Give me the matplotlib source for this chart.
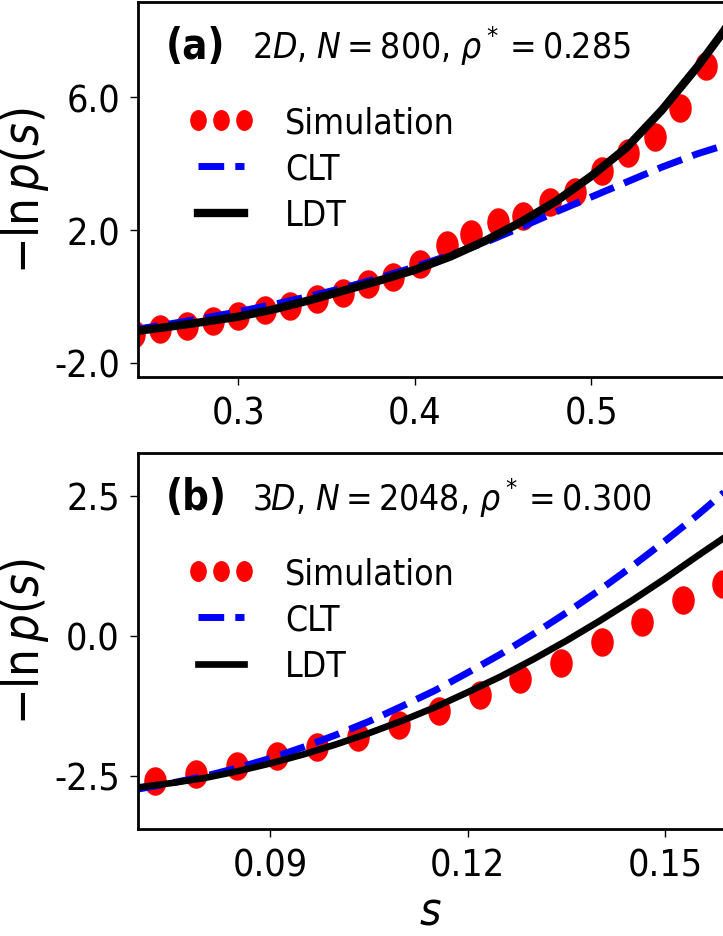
import matplotlib
matplotlib.use("Agg")
import matplotlib.pyplot as plt
from matplotlib.path import Path
from matplotlib.transforms import Affine2D

plt.rcParams["font.family"] = ["DejaVu Sans"]
plt.rcParams["font.stretch"] = "condensed"
plt.rcParams["mathtext.fontset"] = "custom"
plt.rcParams["mathtext.rm"] = "DejaVu Sans:stretch=condensed"
plt.rcParams["mathtext.it"] = "DejaVu Sans:style=italic:stretch=condensed"
plt.rcParams["mathtext.bf"] = "DejaVu Sans:weight=bold:stretch=condensed"

# panel (a): 2D, N = 800
sim_a_s = [0.241, 0.2557, 0.2708, 0.2859, 0.3001, 0.3152, 0.3294, 0.3445, 0.3596, 0.3734,
           0.3879, 0.403, 0.418, 0.4321, 0.4472, 0.4614, 0.4765, 0.4907, 0.5058, 0.5209,
           0.536, 0.5502, 0.5649]
sim_a_v = [-1.12, -0.98, -0.88, -0.73, -0.58, -0.42, -0.28, -0.07, 0.11, 0.36,
           0.60, 0.97, 1.54, 1.89, 2.24, 2.44, 2.86, 3.16, 3.78, 4.32,
           4.82, 5.67, 6.96]
th_a_s = [0.24, 0.26, 0.28, 0.30, 0.32, 0.34, 0.36, 0.38, 0.40, 0.42,
          0.44, 0.46, 0.48, 0.50, 0.52, 0.54, 0.56, 0.575, 0.58]
clt_a = [-1.01, -0.84, -0.66, -0.46, -0.24, 0.0, 0.26, 0.56, 0.89, 1.25,
         1.63, 2.08, 2.55, 3.0, 3.45, 3.9, 4.3, 4.55, 4.65]
ldt_a = [-1.06, -0.92, -0.77, -0.61, -0.39, -0.12, 0.18, 0.48, 0.80, 1.20,
         1.68, 2.24, 2.87, 3.63, 4.49, 5.62, 6.92, 8.0, 8.4]

# panel (b): 3D, N = 2048
sim_b_s = [0.0725, 0.0787, 0.0849, 0.0910, 0.0971, 0.1033, 0.1095, 0.1157, 0.1219, 0.1280,
           0.1342, 0.1404, 0.1465, 0.1527, 0.1588]
sim_b_v = [-2.59, -2.47, -2.32, -2.14, -1.99, -1.81, -1.60, -1.34, -1.06, -0.77,
           -0.48, -0.12, 0.24, 0.64, 0.92]
th_b_s = [0.0698, 0.075, 0.080, 0.085, 0.090, 0.095, 0.100, 0.105, 0.110, 0.115,
          0.120, 0.125, 0.130, 0.135, 0.140, 0.145, 0.150, 0.155, 0.159, 0.161]
clt_b = [-2.74, -2.63, -2.51, -2.36, -2.19, -1.99, -1.77, -1.53, -1.26, -0.98,
         -0.66, -0.33, 0.03, 0.41, 0.81, 1.24, 1.69, 2.16, 2.56, 2.77]
ldt_b = [-2.71, -2.63, -2.54, -2.42, -2.28, -2.12, -1.94, -1.74, -1.52, -1.28,
         -1.01, -0.73, -0.42, -0.09, 0.26, 0.63, 1.02, 1.43, 1.75, 1.92]

panels = [
    ("(a)", r"$2D$, $N = 800$, $\rho^* = 0.285$", sim_a_s, sim_a_v, th_a_s, clt_a, ldt_a,
     (0.2432, 0.5746), (-2.43, 8.88), [0.3, 0.4, 0.5], ["0.3", "0.4", "0.5"],
     [-2, 2, 6], ["-2.0", "2.0", "6.0"], 6.0),
    ("(b)", r"$3D$, $N = 2048$, $\rho^* = 0.300$", sim_b_s, sim_b_v, th_b_s, clt_b, ldt_b,
     (0.0699, 0.1588), (-3.45, 3.26), [0.09, 0.12, 0.15], ["0.09", "0.12", "0.15"],
     [-2.5, 0, 2.5], ["-2.5", "0.0", "2.5"], 4.8),
]

# points look like upright ellipses in the original
ellipse = Path.unit_circle().transformed(Affine2D().scale(0.78, 1.0))

fig = plt.figure(figsize=(7.23, 9.37), dpi=100)
boxes = [[138 / 723, 1 - 378 / 937, 1 - 138 / 723, 375 / 937],
         [138 / 723, 1 - 830 / 937, 1 - 138 / 723, 376 / 937]]

for box, p in zip(boxes, panels):
    tag, title, ss, sv, ts, clt, ldt, xl, yl, xt, xtl, yt, ytl, lw_ldt = p
    ax = fig.add_axes(box)
    ax.plot(ss, sv, ls="none", marker=ellipse, ms=19.5, color="red", label="Simulation")
    ax.plot(ts, clt, "--", color="blue", lw=5, label="CLT")
    ax.plot(ts, ldt, "-", color="black", lw=lw_ldt, label="LDT")
    ax.set_xlim(xl)
    ax.set_ylim(yl)
    ax.set_xticks(xt)
    ax.set_xticklabels(xtl)
    ax.set_yticks(yt)
    ax.set_yticklabels(ytl)
    ax.tick_params(labelsize=27, length=6, width=1, pad=7)
    for side in ["left", "top", "bottom"]:
        ax.spines[side].set_linewidth(2)
    ax.spines["right"].set_visible(False)
    ax.set_ylabel(r"$-\ln p(s)$", fontsize=35)
    ax.yaxis.set_label_coords(-0.148, 0.5)
    ax.text(0.048, 0.883, tag, fontsize=30, weight="bold", va="center", transform=ax.transAxes)
    ax.text(0.195, 0.883, title, fontsize=25.5, va="center", transform=ax.transAxes)
    ax.legend(loc="upper left", bbox_to_anchor=(0.085, 0.725), frameon=False, fontsize=25.5,
              numpoints=3, markerscale=0.72, borderpad=0, borderaxespad=0,
              handlelength=1.9, handletextpad=0.85, labelspacing=0.35)

ax.set_xlabel(r"$s$", fontsize=33, labelpad=4)

fig.savefig("out.png", dpi=100)
